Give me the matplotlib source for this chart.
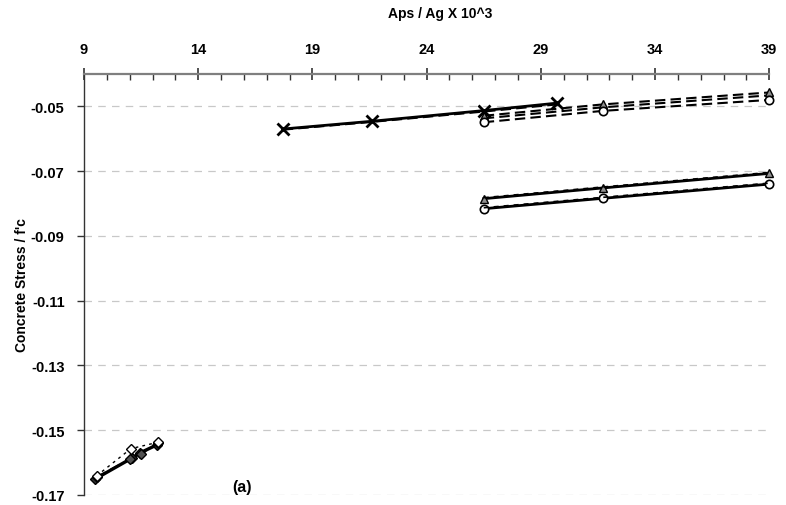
import numpy as np
import matplotlib
matplotlib.use("Agg")
from matplotlib import pyplot as plt
from matplotlib.ticker import MultipleLocator, FixedLocator

plt.rcParams['font.family'] = ['Liberation Sans', 'DejaVu Sans']
plt.rcParams['font.weight'] = 'bold'

# upper group (x marks, solid)
x_cross = [17.7, 21.6, 26.5, 29.7]
y_cross = [-0.0570, -0.0546, -0.0513, -0.0490]
y_cross_dash = [-0.0572, -0.0548, -0.0516, -0.0494]

# upper group dashed
x_up = [26.5, 31.7, 39.0]
y_up_tri = [-0.0529, -0.0494, -0.0457]
y_up_sq = [-0.0537, -0.0503, -0.0466]
y_up_circ = [-0.0549, -0.0514, -0.0480]

# lower group (solid + dashed overlay)
x_low = [26.5, 31.7, 39.0]
y_low_tri = [-0.0785, -0.0752, -0.0707]
y_low_tri_d = [-0.0782, -0.0749, -0.0704]
y_low_circ = [-0.0816, -0.0784, -0.0740]
y_low_circ_d = [-0.0813, -0.0781, -0.0737]

# small-ratio cluster
x_s1 = [9.55, 11.0, 11.5, 12.25]
y_s1 = [-0.1645, -0.1590, -0.1572, -0.1540]
x_s2 = [9.55, 11.05, 12.25]
y_s2 = [-0.1641, -0.1557, -0.1537]
x_s3 = [9.5, 11.1, 11.45, 12.2]
y_s3 = [-0.1650, -0.1586, -0.1570, -0.1545]

xticks = [9, 14, 19, 24, 29, 34, 39]
yticks = [-0.17, -0.15, -0.13, -0.11, -0.09, -0.07, -0.05]

fig = plt.figure(figsize=(7.86, 5.06), dpi=100)
ax = fig.add_axes([0.1069, 0.0198, 0.8718, 0.832])

ax.set_xlim(9, 39)
ax.set_ylim(-0.17, -0.04)

ax.yaxis.set_major_locator(FixedLocator(yticks))
ax.set_yticklabels(["%.2f" % v for v in yticks])
ax.xaxis.tick_top()
ax.xaxis.set_label_position('top')
ax.xaxis.set_major_locator(FixedLocator(xticks))
ax.set_xticklabels([str(v) for v in xticks])
ax.xaxis.set_minor_locator(MultipleLocator(1))

ax.grid(axis='y', color='#c8c8c8', linestyle=(0, (6, 5)), linewidth=0.9)
ax.set_axisbelow(True)

for s in ['bottom', 'right']:
    ax.spines[s].set_visible(False)
ax.spines['top'].set_color('#7f7f7f')
ax.spines['top'].set_linewidth(1.6)
ax.spines['left'].set_color('#333333')
ax.spines['left'].set_linewidth(1.0)

ax.tick_params(axis='x', which='major', direction='inout', length=8, width=1.2,
               color='#333333', labelsize=10.5, pad=9)
ax.tick_params(axis='x', which='minor', direction='in', length=4, width=1,
               color='#333333')
ax.tick_params(axis='y', which='major', direction='out', length=5, width=1,
               color='#333333', labelsize=10.5, pad=9)

ax.set_xlabel("Aps / Ag X 10^3", fontsize=10, fontweight='bold')
ax.xaxis.set_label_coords(0.52, 1.135)
ax.set_ylabel("Concrete Stress / f'c", fontsize=10, fontweight='bold')
ax.yaxis.set_label_coords(-0.08, 0.5)

dash = (0, (5, 2.5))
short = (0, (3, 3))

# upper group
ax.plot(x_cross, y_cross_dash, color='k', lw=1.5, linestyle=dash)
ax.plot(x_cross, y_cross, color='k', lw=2.0, marker='x', ms=9, mew=2)
ax.plot(x_up, y_up_sq, color='k', lw=1.5, linestyle=dash, clip_on=False)
ax.plot(x_up, y_up_tri, color='k', lw=1.5, linestyle=dash, marker='^', ms=6,
        mfc='#909090', mec='k', mew=1, clip_on=False)
ax.plot(x_up, y_up_circ, color='k', lw=1.5, linestyle=dash, marker='o', ms=6,
        mfc='white', mec='k', mew=1.2, clip_on=False)

# lower group
ax.plot(x_low, y_low_tri, color='k', lw=2.0, marker='^', ms=6,
        mfc='#909090', mec='k', mew=1, clip_on=False)
ax.plot(x_low, y_low_tri_d, color='k', lw=1.2, linestyle=short, clip_on=False)
ax.plot(x_low, y_low_circ, color='k', lw=2.0, marker='o', ms=6,
        mfc='white', mec='k', mew=1.2, clip_on=False)
ax.plot(x_low, y_low_circ_d, color='k', lw=1.2, linestyle=short, clip_on=False)

# small-ratio cluster
ax.plot(x_s3, y_s3, color='k', lw=2.4, marker='D', ms=5, mfc='#303030', mec='k')
ax.plot(x_s1, y_s1, color='k', lw=1.5, linestyle=dash, marker='D', ms=5,
        mfc='#505050', mec='k')
ax.plot(x_s2, y_s2, color='k', lw=1.0, linestyle=(0, (2, 3)), marker='D', ms=5,
        mfc='white', mec='k')

ax.text(15.5, -0.1675, "(a)", fontsize=11.5, fontweight='bold', va='center')

fig.savefig("out.png", dpi=100)
